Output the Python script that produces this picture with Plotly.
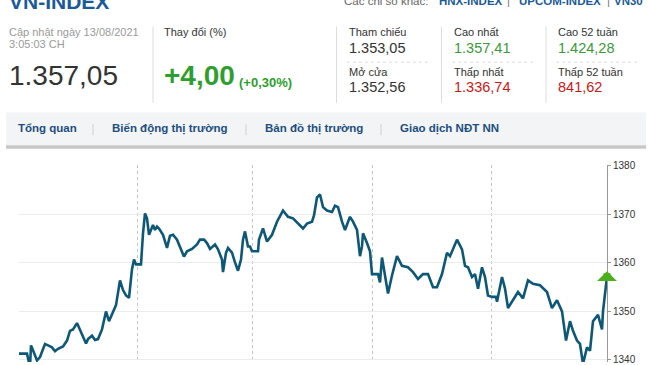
import plotly.graph_objects as go

W, H = 650, 365


def px(x):
    return x / W


def py(y):
    return 1 - y / H


# ---------------- data ----------------
t = [0, 8, 11, 12, 14, 18, 21, 26, 29, 33,
     36, 39, 44, 48, 51, 54, 58, 61, 64, 67,
     69, 73, 76, 79, 83, 87, 90, 94, 97, 101,
     104, 107, 110, 113, 115, 117, 122, 124, 126, 128,
     130, 134, 136, 138, 140, 144, 148, 151, 154, 158,
     161, 165, 168, 173, 178, 181, 185, 188, 191, 196,
     199, 203, 204, 207, 209, 213, 216, 219, 222, 224,
     226, 228, 229, 231, 233, 239, 240, 244, 248, 253,
     258, 264, 269, 274, 279, 284, 288, 293, 295, 298,
     301, 304, 308, 313, 316, 319, 323, 326, 331, 334,
     338, 341, 343, 344, 348, 351, 353, 359, 361, 363,
     366, 369, 373, 378, 383, 389, 394, 399, 404, 409,
     414, 418, 423, 428, 431, 438, 443, 446, 449, 453,
     456, 459, 463, 466, 469, 473, 477, 478, 483, 486,
     489, 494, 499, 504, 509, 514, 521, 528, 533, 538,
     543, 547, 551, 554, 558, 561, 564, 568, 571, 574,
     579, 583, 584, 587, 588]

vals = [1341.3, 1341.3, 1338.5, 1343.0, 1342.0, 1339.9, 1340.6, 1343.3, 1343.0, 1342.6,
        1341.8, 1342.3, 1342.8, 1344.0, 1346.0, 1346.3, 1347.6, 1346.3, 1345.0, 1343.4,
        1344.3, 1345.0, 1344.1, 1344.3, 1346.3, 1350.0, 1348.0, 1350.0, 1351.3, 1356.4,
        1354.4, 1353.3, 1352.8, 1358.7, 1360.7, 1359.7, 1359.7, 1366.1, 1370.2, 1369.2,
        1365.8, 1367.8, 1366.8, 1367.5, 1367.1, 1365.8, 1363.1, 1365.6, 1365.8, 1364.8,
        1363.4, 1361.3, 1362.4, 1362.9, 1363.8, 1364.8, 1364.8, 1364.1, 1362.9, 1363.8,
        1362.8, 1360.7, 1358.1, 1362.1, 1363.1, 1362.1, 1360.1, 1358.4, 1360.7, 1364.8,
        1366.5, 1364.8, 1363.4, 1363.4, 1362.4, 1362.4, 1364.8, 1367.1, 1364.4, 1365.8,
        1368.5, 1370.8, 1369.5, 1369.2, 1368.1, 1367.1, 1368.1, 1368.5, 1369.8, 1373.5,
        1374.1, 1371.5, 1370.8, 1370.5, 1371.8, 1371.5, 1368.5, 1366.8, 1369.5, 1368.5,
        1366.8, 1361.4, 1363.4, 1366.1, 1364.1, 1362.4, 1357.7, 1357.7, 1356.0, 1361.1,
        1357.4, 1353.7, 1357.4, 1361.4, 1359.4, 1359.1, 1358.1, 1356.7, 1357.7, 1357.7,
        1355.0, 1355.0, 1357.7, 1362.1, 1361.4, 1364.8, 1362.8, 1359.4, 1359.1, 1357.1,
        1357.7, 1354.7, 1359.1, 1357.1, 1353.3, 1353.0, 1353.0, 1352.0, 1357.1, 1354.7,
        1350.7, 1352.3, 1354.0, 1352.7, 1356.4, 1355.7, 1355.4, 1354.0, 1350.7, 1352.3,
        1350.0, 1344.0, 1348.0, 1346.0, 1344.0, 1343.3, 1339.2, 1342.6, 1341.9, 1348.0,
        1349.3, 1346.3, 1350.0, 1355.4, 1357.05]

assert len(t) == len(vals), (len(t), len(vals))

ytick_vals = [1340, 1350, 1360, 1370, 1380]
day_breaks = [0, 118, 233, 353, 472]

index_name = "VN-INDEX"
other_label = "Các chỉ số khác:"
other_indices = ["HNX-INDEX", "UPCOM-INDEX", "VN30"]
update_lines = ["Cập nhật ngày 13/08/2021", "3:05:03 CH"]
change_title = "Thay đổi (%)"
last_value = "1.357,05"
change_abs = "+4,00"
change_pct = "(+0,30%)"

stat_labels = ["Tham chiếu", "Mở cửa", "Cao nhất", "Thấp nhất", "Cao 52 tuần", "Thấp 52 tuần"]
stat_values = ["1.353,05", "1.352,56", "1.357,41", "1.336,74", "1.424,28", "841,62"]
stat_kind = ["flat", "flat", "up", "down", "up", "down"]

tabs = ["Tổng quan", "Biến động thị trường", "Bản đồ thị trường", "Giao dịch NĐT NN"]

# ---------------- style ----------------
FONT = "Liberation Sans, Arial, sans-serif"
BLUE = "#1b5a99"
NAVBLUE = "#1d4e80"
DARK = "#333333"
GREY = "#9a9a9a"
GREEN = "#3a9a3a"
RED = "#cc1616"
LINE = "#0e5877"
kind_color = {"flat": DARK, "up": GREEN, "down": RED}

fig = go.Figure()

fig.add_trace(go.Scatter(
    x=t, y=vals, mode="lines",
    line=dict(color=LINE, width=2.6),
    hoverinfo="skip", showlegend=False,
))

ann = []


def text(x, y, s, size, color, bold=False, anchor="left"):
    if bold:
        s = "<b>" + s + "</b>"
    ann.append(dict(x=px(x), y=py(y), xref="paper", yref="paper", text=s,
                    showarrow=False, xanchor=anchor, yanchor="middle",
                    font=dict(family=FONT, size=size, color=color)))


# top header (partly cut by the window)
text(7, -4, index_name, 21, BLUE, bold=True)
text(342, -4, other_label, 11.5, "#666666")
other_x = [437, 517, 612]
sep_x = [508, 608]
for xx, name in zip(other_x, other_indices):
    text(xx, -4, name, 11.5, BLUE, bold=True)
for xx in sep_x:
    text(xx, -4, "|", 11.5, "#777777", anchor="center")

# update time
text(7, 27.5, update_lines[0], 11, GREY)
text(7, 39.5, update_lines[1], 11, GREY)
text(7, 72, last_value, 28, DARK)

# change
text(162, 27.5, change_title, 11, DARK)
text(162, 72, change_abs, 28, "#2e9f2e", bold=True)
text(237, 79, change_pct, 13, "#2e9f2e", bold=True)

# stats grid
col_x = [347, 452, 556]
for i, (lab, val, kind) in enumerate(zip(stat_labels, stat_values, stat_kind)):
    c = i // 2
    r = i % 2
    text(col_x[c], 27.5 + r * 41, lab, 11, DARK)
    text(col_x[c], 44 + r * 40, val, 14.5, kind_color[kind])

# nav tabs
tab_x = [16, 110, 263, 398]
for xx, name in zip(tab_x, tabs):
    text(xx, 126, name, 11.5, NAVBLUE, bold=True)

shapes = []
# vertical separators in header
for xx in [153, 336.5, 441.5, 546]:
    shapes.append(dict(type="line", xref="paper", yref="paper",
                       x0=px(xx), x1=px(xx), y0=py(22), y1=py(100),
                       line=dict(color="#dddddd", width=1)))
# dotted row separators in stats grid
for xx in col_x:
    shapes.append(dict(type="line", xref="paper", yref="paper",
                       x0=px(xx), x1=px(xx + 82), y0=py(58.5), y1=py(58.5),
                       line=dict(color="#dedede", width=1, dash="dot")))
# nav bar
shapes.append(dict(type="rect", xref="paper", yref="paper", layer="below",
                   x0=px(6), x1=px(646), y0=py(110), y1=py(143.5),
                   fillcolor="#f3f4f5", line=dict(width=0)))
shapes.append(dict(type="rect", xref="paper", yref="paper", layer="below",
                   x0=px(6), x1=px(646), y0=py(143.5), y1=py(147),
                   fillcolor="#c8c8c8", line=dict(width=0)))
for xx in [93, 246, 381]:
    shapes.append(dict(type="line", xref="paper", yref="paper",
                       x0=px(xx), x1=px(xx), y0=py(122), y1=py(133),
                       line=dict(color="#cfcfcf", width=1)))

# up arrow at the last value
ann.append(dict(x=t[-1], y=vals[-1], xref="x", yref="y", text=".",
                font=dict(size=2, color="rgba(0,0,0,0)"),
                showarrow=True, ax=0, ay=12,
                arrowhead=1, arrowsize=0.47, arrowwidth=7, arrowcolor="#4caf1e",
                yshift=6))

fig.update_layout(
    width=W, height=H, autosize=False,
    margin=dict(l=0, r=0, t=0, b=0),
    paper_bgcolor="white", plot_bgcolor="white",
    font=dict(family=FONT),
    annotations=ann, shapes=shapes,
    xaxis=dict(domain=[px(19), px(607)], range=[0, 588],
               tickvals=day_breaks, showticklabels=False, ticks="",
               showgrid=True, gridcolor="#c4c4c4", griddash="dot", gridwidth=1,
               zeroline=False, showline=False, fixedrange=True),
    yaxis=dict(domain=[0, py(163.5)], range=[1339.58, 1380.2], side="right",
               tickvals=ytick_vals, ticks="outside", ticklen=3, tickcolor="#999999",
               tickfont=dict(size=10, color=DARK, family=FONT),
               ticklabeloverflow="allow",
               showgrid=True, gridcolor="#ececec", gridwidth=1,
               showline=True, linecolor="#999999", linewidth=1,
               zeroline=False, fixedrange=True),
)

fig.write_html("out.html")
